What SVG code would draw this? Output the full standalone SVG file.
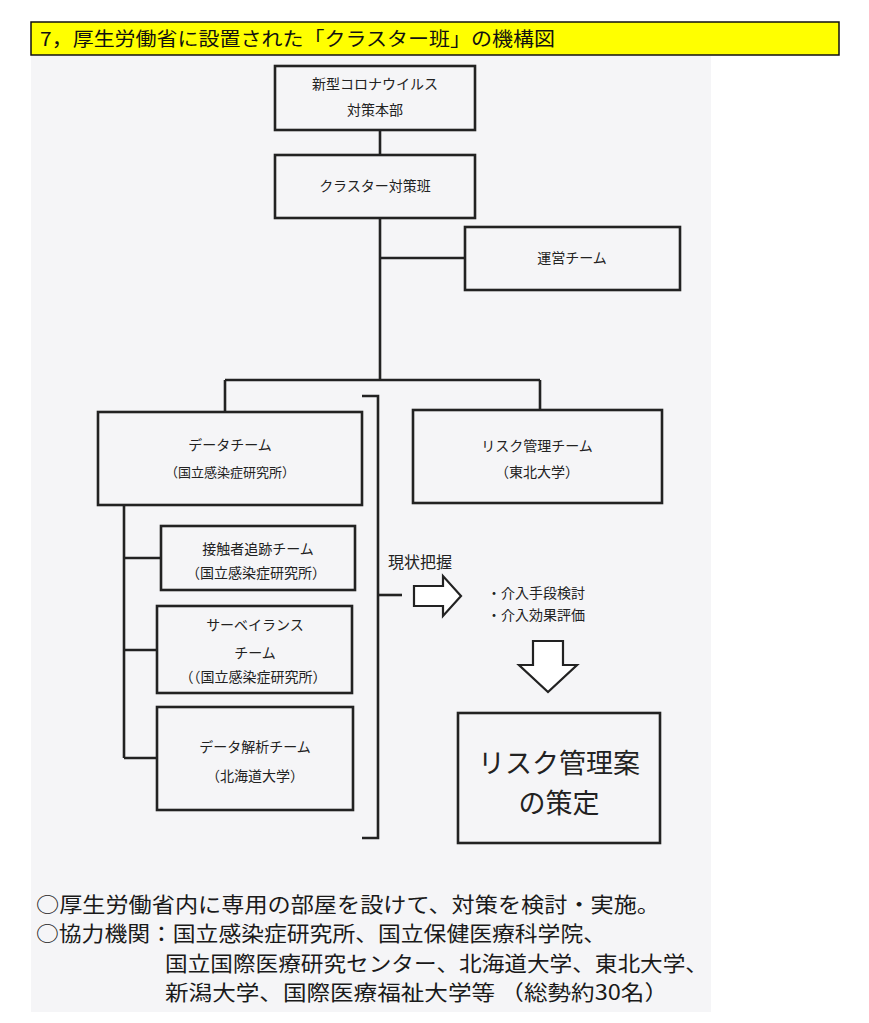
<svg xmlns="http://www.w3.org/2000/svg" width="869" height="1023" viewBox="0 0 869 1023">
<style>
.box{fill:none;stroke:#222;stroke-width:2.6}
.ln{fill:none;stroke:#222;stroke-width:2.6}
.t{font-family:"Noto Sans CJK JP","Noto Sans",sans-serif;fill:#222;font-size:14px;text-anchor:middle}
.b{font-family:"Noto Sans CJK JP","Noto Sans",sans-serif;fill:#1a1a1a;font-size:21px}
.ar{fill:#fff;stroke:#222;stroke-width:2.2;stroke-linejoin:miter}
</style>
<rect x="0" y="0" width="869" height="1023" fill="#ffffff"/>
<rect x="31" y="56" width="680" height="956" fill="#f5f5f7"/>
<g id="title">
<rect x="31" y="22" width="808" height="33" fill="#ffff00" stroke="#111" stroke-width="1.5"/>
<text x="40" y="46" font-family="'Noto Sans CJK JP',sans-serif" font-size="19" fill="#111" textLength="515" lengthAdjust="spacingAndGlyphs">7，厚生労働省に設置された「クラスター班」の機構図</text>
</g>
<g id="connectors">
<line class="ln" x1="380" y1="130" x2="380" y2="155"/>
<line class="ln" x1="380" y1="218" x2="380" y2="380"/>
<line class="ln" x1="380" y1="258" x2="465" y2="258"/>
<line class="ln" x1="225" y1="380" x2="540" y2="380"/>
<line class="ln" x1="225" y1="380" x2="225" y2="412"/>
<line class="ln" x1="540" y1="380" x2="540" y2="410"/>
<polyline class="ln" points="362,396 378,396 378,838 362,838"/>
<line class="ln" x1="378" y1="595" x2="402" y2="595"/>
<line class="ln" x1="124" y1="505" x2="124" y2="758"/>
<line class="ln" x1="124" y1="558" x2="161" y2="558"/>
<line class="ln" x1="124" y1="650" x2="157" y2="650"/>
<line class="ln" x1="124" y1="758" x2="157" y2="758"/>
</g>
<g id="honbu">
<rect class="box" x="275" y="66" width="200" height="64"/>
<text class="t" x="375" y="89">新型コロナウイルス</text>
<text class="t" x="375" y="115">対策本部</text>
</g>
<g id="cluster">
<rect class="box" x="275" y="155" width="200" height="63"/>
<text class="t" x="375" y="191">クラスター対策班</text>
</g>
<g id="unei">
<rect class="box" x="465" y="227" width="215" height="63"/>
<text class="t" x="572" y="263">運営チーム</text>
</g>
<g id="data">
<rect class="box" x="98" y="412" width="264" height="93"/>
<text class="t" x="230" y="450">データチーム</text>
<text class="t" x="230" y="477" style="font-size:13px">（国立感染症研究所）</text>
</g>
<g id="risk">
<rect class="box" x="413" y="410" width="249" height="93"/>
<text class="t" x="537" y="451">リスク管理チーム</text>
<text class="t" x="537" y="477">（東北大学）</text>
</g>
<g id="sesshoku">
<rect class="box" x="161" y="526" width="194" height="64"/>
<text class="t" x="258" y="554">接触者追跡チーム</text>
<text class="t" x="256" y="578">（国立感染症研究所）</text>
</g>
<g id="surveillance">
<rect class="box" x="157" y="606" width="195" height="87"/>
<text class="t" x="255" y="630">サーベイランス</text>
<text class="t" x="255" y="658">チーム</text>
<text class="t" x="253" y="682">（（国立感染症研究所）</text>
</g>
<g id="kaiseki">
<rect class="box" x="157" y="707" width="196" height="103"/>
<text class="t" x="255" y="752">データ解析チーム</text>
<text class="t" x="255" y="781">（北海道大学）</text>
</g>
<g id="genjo">
<text class="t" x="388" y="568" style="font-size:16px;text-anchor:start">現状把握</text>
<polygon class="ar" points="414,586 443,586 443,576 461,596 443,616 443,606 414,606"/>
</g>
<g id="kainyu">
<text class="t" x="487" y="598" style="font-size:14px;text-anchor:start">・介入手段検討</text>
<text class="t" x="487" y="620" style="font-size:14px;text-anchor:start">・介入効果評価</text>
</g>
<g id="downarrow">
<polygon class="ar" points="533,641 563,641 563,665 577,665 548,692 519,665 533,665"/>
</g>
<g id="sakutei">
<rect class="box" x="458" y="713" width="202" height="130"/>
<text class="t" x="559" y="773" style="font-size:27px">リスク管理案</text>
<text class="t" x="559" y="813" style="font-size:27px">の策定</text>
</g>
<g id="notes">
<text class="b" x="36" y="912" textLength="624" lengthAdjust="spacingAndGlyphs">○厚生労働省内に専用の部屋を設けて、対策を検討・実施。</text>
<text class="b" x="36" y="941" textLength="570" lengthAdjust="spacingAndGlyphs">○協力機関：国立感染症研究所、国立保健医療科学院、</text>
<text class="b" x="165" y="971" textLength="543" lengthAdjust="spacingAndGlyphs">国立国際医療研究センター、北海道大学、東北大学、</text>
<text class="b" x="165" y="1000" textLength="503" lengthAdjust="spacingAndGlyphs">新潟大学、国際医療福祉大学等 （総勢約30名）</text>
</g>
</svg>
